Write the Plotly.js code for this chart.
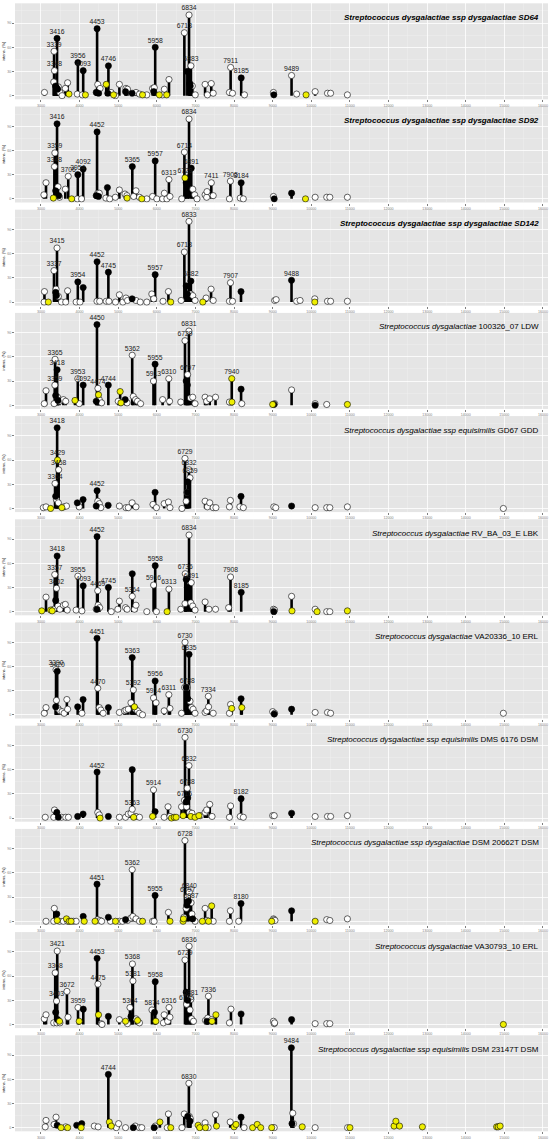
<!DOCTYPE html>
<html>
<head>
<meta charset="utf-8">
<script src="https://cdn.plot.ly/plotly-3.0.1.min.js"></script>
<style>body{margin:0;background:#fff}</style>
</head>
<body>
<div id="plotArea" style="width:553px;height:1140px"></div>
<script>
// strain names, one per panel
var titles = [
  "<b><i>Streptococcus dysgalactiae ssp dysgalactiae SD64</i></b>",
  "<b><i>Streptococcus dysgalactiae ssp dysgalactiae SD92</i></b>",
  "<b><i>Streptococcus dysgalactiae ssp dysgalactiae SD142</i></b>",
  "<i>Streptococcus dysgalactiae</i> 100326_07 LDW",
  "<i>Streptococcus dysgalactiae ssp equisimilis</i> GD67 GDD",
  "<i>Streptococcus dysgalactiae</i> RV_BA_03_E LBK",
  "<i>Streptococcus dysgalactiae</i> VA20336_10 ERL",
  "<i>Streptococcus dysgalactiae ssp equisimilis</i> DMS 6176 DSM",
  "<i>Streptococcus dysgalactiae ssp dysgalactiae</i> DSM 20662T DSM",
  "<i>Streptococcus dysgalactiae</i> VA30793_10 ERL",
  "<i>Streptococcus dysgalactiae ssp equisimilis</i> DSM 23147T DSM"
];

// peaks as [m/z, intens %], split by circle colour; labels = m/z of labelled peaks
var p1White = [[3090,4],[3330,17],[3339,55],[3348,31],[3450,11],[3490,4],[3545,0],[3630,9],[3690,16],[3940,2],[4070,1],[4470,14],[4530,9],[4815,4],[4930,0],[5030,14],[5200,9],[5240,8],[5460,4],[5550,2],[5740,1],[5890,9],[5935,10],[6145,1],[6195,8],[6315,20],[6713,78],[6834,100],[6883,37],[6870,14],[6920,12],[6995,1],[7250,14],[7310,1],[7410,15],[7460,3],[7880,4],[7911,35],[7960,3],[8270,1],[9020,4],[9489,25],[9620,2],[10100,5],[10420,3],[10500,3],[10935,1]];
var p1Black = [[3380,12],[3400,10],[3416,71],[3430,8],[3956,41],[4093,31],[4430,4],[4453,83],[4490,3],[4730,3],[4746,37],[5190,5],[5360,3],[5920,5],[5958,60],[6790,30],[6850,15],[6865,12],[8185,22],[9030,1]];
var p1Yellow = [[3725,2],[4150,1],[4690,14],[4880,1],[5630,1],[6065,1],[6255,1],[9865,1]];
var p1Labels = [3416,3339,3348,3956,4093,4453,4746,5958,6713,6834,6883,7911,8185,9489];

var p2White = [[3075,5],[3130,20],[3359,57],[3348,40],[3440,15],[3480,2],[3630,12],[3706,28],[3940,0],[4050,0],[4470,7],[4510,7],[4680,1],[4780,0],[4925,2],[5030,11],[5175,6],[5225,4],[5400,3],[5460,10],[5550,2],[5740,0],[5890,3],[6000,0],[6150,0],[6195,7],[6260,0],[6313,24],[6340,3],[6645,0],[6714,58],[6834,99],[6930,12],[6980,5],[7040,0],[7250,5],[7290,2],[7300,9],[7411,20],[7460,4],[7880,0],[7905,22],[8160,1],[8240,0],[9020,3],[10100,2],[10400,2],[10480,2],[10935,2]];
var p2Black = [[3380,10],[3416,93],[3460,4],[3954,30],[4092,37],[4430,4],[4452,83],[4490,3],[4720,14],[5365,40],[5957,47],[6760,20],[6800,26],[6891,38],[8184,20],[9040,0],[9490,7]];
var p2Yellow = [[3320,1],[3795,0],[5230,1],[5610,0],[6729,26],[9850,0]];
var p2Labels = [3416,3359,3348,3706,3954,4092,4452,5365,5957,6313,6714,6729,6834,6891,7411,7905,8184];

var p3White = [[3080,0],[3090,13],[3337,39],[3390,16],[3415,67],[3450,7],[3530,0],[3640,0],[3690,14],[3910,0],[4010,0],[4450,1],[4520,1],[4690,1],[4760,1],[4930,0],[5030,9],[5120,0],[5200,5],[5240,2],[5460,2],[5570,0],[5740,0],[5870,10],[5920,4],[6160,1],[6300,13],[6630,2],[6713,62],[6833,100],[6880,10],[6930,8],[6990,2],[7275,5],[7405,16],[7460,2],[7880,1],[7907,24],[7960,1],[9050,2],[9090,3],[9620,1],[9710,2],[10090,4],[10420,1],[10500,1],[10935,1]];
var p3Black = [[3380,12],[3400,8],[3954,25],[4093,18],[4452,50],[4745,37],[5360,4],[5957,34],[6760,20],[6790,10],[6882,26],[8180,13],[9488,27]];
var p3Yellow = [[3190,0],[6360,0],[7190,0],[10090,0]];
var p3Labels = [3415,3337,3954,4452,4745,5957,6713,6833,6882,7907,9488];

var p4White = [[3085,2],[3130,18],[3340,2],[3359,25],[3365,57],[3430,10],[3480,5],[3580,7],[3640,5],[3953,33],[3990,2],[4474,21],[4510,7],[4570,3],[5000,5],[5230,3],[5362,62],[5390,11],[5450,7],[5500,5],[5580,2],[5913,30],[6150,7],[6310,33],[6330,5],[6620,4],[6729,80],[6797,38],[6831,92],[6870,9],[6930,10],[6990,2],[7250,10],[7290,5],[7370,8],[7520,10],[7880,4],[8200,2],[9050,2],[9490,19],[10100,2],[10400,1]];
var p4Black = [[3380,12],[3418,44],[3440,6],[4092,25],[4430,5],[4450,100],[4744,25],[5180,7],[5955,51],[6760,30],[6790,25],[8182,20],[9030,1],[10100,0]];
var p4Yellow = [[3880,6],[4490,13],[5050,17],[5070,3],[7940,33],[7945,4],[9000,1],[10935,1]];
var p4Labels = [3365,3418,3359,3953,4092,4450,4474,4744,5362,5913,5955,6310,6729,6831,6797,7940];

var p5White = [[3060,1],[3130,2],[3364,31],[3400,11],[3450,7],[3458,48],[3590,2],[3660,3],[3990,2],[4470,9],[4510,6],[4550,1],[5030,3],[5200,1],[5260,1],[5360,7],[5460,2],[5900,5],[5990,1],[6190,6],[6300,8],[6340,1],[6650,0],[6729,62],[6760,9],[6780,20],[6832,48],[6859,38],[7250,9],[7310,2],[7370,7],[7460,1],[7530,1],[7880,2],[7905,10],[8150,2],[8240,1],[9030,2],[9080,1],[10100,1],[10400,1],[10480,1],[10935,2],[14974,0]];
var p5Black = [[3380,15],[3418,100],[3940,7],[4090,11],[4430,3],[4452,22],[4740,4],[5955,20],[6790,20],[6800,33],[8180,15],[9490,3]];
var p5Yellow = [[3250,0],[3429,60],[3540,1]];
var p5Labels = [3418,3429,3458,3364,4452,6729,6832,6859];

var p6White = [[3130,18],[3330,3],[3357,46],[3402,29],[3440,7],[3490,3],[3580,8],[3630,9],[3680,2],[3910,2],[3955,44],[4060,1],[4430,3],[4469,26],[4480,8],[4520,5],[4820,0],[4990,3],[5030,13],[5190,5],[5230,3],[5364,19],[5420,3],[5460,8],[5740,0],[5916,33],[5990,0],[6313,28],[6620,3],[6730,10],[6736,47],[6834,95],[6880,11],[6891,36],[6930,7],[6990,2],[7250,12],[7350,3],[7520,3],[7860,5],[7908,43],[9020,3],[9050,2],[9490,19],[10100,3],[10400,0],[10480,0]];
var p6Black = [[3380,14],[3418,69],[4093,32],[4450,3],[4452,93],[4745,30],[5364,47],[5958,57],[6760,40],[6790,30],[8185,24],[9030,0]];
var p6Yellow = [[3020,1],[3250,2],[3290,1],[6265,0],[9500,1],[10150,0],[10935,1]];
var p6Labels = [3418,3357,3402,3955,4093,4452,4469,4745,5364,5916,5958,6313,6736,6834,6891,7908,8185];

var p7White = [[3085,2],[3130,9],[3390,56],[3400,18],[3440,8],[3490,5],[3545,4],[3600,2],[3670,19],[3690,7],[4060,2],[4470,33],[4510,9],[4550,6],[4610,2],[5030,3],[5160,5],[5200,6],[5260,7],[5330,15],[5392,31],[5450,7],[5500,5],[5550,2],[5630,0],[5914,21],[5980,15],[6190,5],[6311,25],[6340,8],[6640,2],[6720,34],[6730,90],[6788,34],[6860,17],[6900,9],[6940,7],[6990,2],[7250,3],[7290,5],[7334,23],[7340,10],[7460,2],[7880,2],[7910,13],[9000,4],[9050,2],[10100,3],[10420,3],[10500,2],[14974,2]];
var p7Black = [[3380,10],[3420,54],[3950,10],[4090,19],[4451,95],[4745,9],[5363,71],[5956,42],[6760,34],[6800,20],[6835,75],[8182,20],[9040,1],[9490,7]];
var p7Yellow = [[5420,10],[7940,8],[8200,9]];
var p7Labels = [3390,3420,4451,4470,5363,5392,5914,5956,6311,6730,6835,6788,7334];

var p8White = [[3110,1],[3330,1],[3350,10],[3530,1],[3640,1],[3710,1],[4470,7],[4510,4],[5030,1],[5190,1],[5260,5],[5330,6],[5363,11],[5460,2],[5550,1],[5914,35],[6190,1],[6290,14],[6340,2],[6640,14],[6716,22],[6730,100],[6770,14],[6788,37],[6832,65],[6850,7],[6910,6],[7130,3],[7250,7],[7290,10],[7370,17],[7430,2],[7880,1],[7910,15],[8160,2],[8240,1],[9000,3],[9040,3],[10100,2],[10420,2],[10500,2],[10935,3]];
var p8Black = [[3410,7],[3450,1],[3950,2],[4090,5],[4452,57],[4745,2],[5363,60],[5955,8],[6760,20],[6800,25],[8182,24],[9490,6]];
var p8Yellow = [[4530,0],[5400,1],[5890,2],[6380,0],[6450,1],[6500,1],[6680,3],[6880,2],[6990,1],[7090,3]];
var p8Labels = [4452,5363,5914,6730,6832,6788,6716,8182];

var p9White = [[3130,0],[3330,0],[3345,16],[3480,0],[3580,0],[3690,0],[3840,0],[3910,0],[4470,2],[4530,1],[4570,0],[4800,0],[5030,0],[5110,0],[5240,1],[5330,4],[5362,64],[5380,6],[5460,3],[5550,0],[5890,0],[5930,0],[6300,11],[6700,5],[6728,100],[6760,16],[6797,30],[6840,36],[6887,23],[6910,9],[6990,0],[7250,16],[7300,1],[7460,0],[7880,0],[7905,13],[8120,0],[9020,3],[9040,2],[9060,1],[10400,2],[10480,1],[10935,3]];
var p9Black = [[3410,9],[4093,6],[4451,46],[4745,5],[5190,2],[5955,32],[6780,20],[6820,25],[6930,3],[8180,22],[9490,13]];
var p9Yellow = [[3420,1],[3660,3],[3730,0],[3780,0],[4120,0],[4400,0],[4930,0],[5630,0],[6340,0],[6680,0],[6690,3],[7180,0],[7340,0],[7420,19],[8975,0],[10100,0]];
var p9Labels = [4451,5362,5955,6728,6840,6797,6887,8180];

var p10White = [[3085,7],[3130,12],[3330,2],[3368,64],[3403,29],[3410,2],[3421,91],[3490,2],[3672,41],[3700,9],[3959,21],[4475,50],[4560,1],[4580,0],[5030,6],[5240,1],[5304,21],[5368,75],[5381,54],[5460,7],[5550,2],[5874,18],[6170,2],[6190,12],[6280,4],[6316,21],[6340,9],[6729,80],[6770,25],[6836,97],[6860,18],[6881,31],[6900,7],[6950,4],[7260,5],[7320,8],[7336,35],[7420,6],[7880,2],[7920,19],[9020,4],[9040,1],[9050,2],[10100,1],[10400,1],[10480,1]];
var p10Black = [[3380,15],[3430,6],[4095,19],[4453,82],[4745,10],[5330,10],[5940,15],[5958,53],[6760,40],[6800,30],[7300,4],[8182,13],[9490,6]];
var p10Yellow = [[3480,4],[3990,4],[4490,12],[5190,4],[5500,5],[5974,4],[7430,4],[7530,12],[14974,0]];
var p10Labels = [3421,3368,3403,3672,3959,4453,4475,5368,5381,5304,5874,5958,6316,6729,6836,6881,6770,7336];

var p11White = [[3110,1],[3130,9],[3340,4],[3390,13],[3640,1],[4380,2],[4480,1],[4950,0],[5010,5],[5190,0],[5440,2],[5550,0],[5610,0],[5960,2],[6270,0],[6300,17],[6650,0],[6710,17],[6830,55],[6840,14],[6870,11],[7250,6],[7330,0],[7520,16],[7900,7],[8260,0],[9020,0],[9040,0],[9520,18],[9540,5],[10100,0],[10940,0]];
var p11Black = [[3420,3],[3925,3],[4055,5],[4744,66],[5390,0],[5930,0],[6800,14],[6860,8],[8182,13],[9484,99],[9500,5]];
var p11Yellow = [[3520,0],[3690,0],[4040,0],[4770,7],[4820,2],[6080,7],[6360,0],[7070,3],[7110,0],[7260,0],[7545,2],[8000,1],[8050,4],[8480,0],[8600,4],[8690,0],[8975,0],[9765,1],[11000,0],[12143,2],[12190,8],[12285,2],[12877,1],[14800,1],[14840,1],[14890,2]];
var p11Labels = [4744,6830,9484];

var panels = [
  [p1White, p1Black, p1Yellow, p1Labels],
  [p2White, p2Black, p2Yellow, p2Labels],
  [p3White, p3Black, p3Yellow, p3Labels],
  [p4White, p4Black, p4Yellow, p4Labels],
  [p5White, p5Black, p5Yellow, p5Labels],
  [p6White, p6Black, p6Yellow, p6Labels],
  [p7White, p7Black, p7Yellow, p7Labels],
  [p8White, p8Black, p8Yellow, p8Labels],
  [p9White, p9Black, p9Yellow, p9Labels],
  [p10White, p10Black, p10Yellow, p10Labels],
  [p11White, p11Black, p11Yellow, p11Labels]
];

var W = 553, H = 1140;
var fills = ['#ffffff', '#000000', '#eeee00'];
var font = 'Liberation Sans, Arial, sans-serif';
var traces = [];
var layout = {
  width: W, height: H,
  margin: {l: 15, r: 5, t: 0, b: 0},
  paper_bgcolor: '#ffffff',
  plot_bgcolor: '#e5e5e5',
  showlegend: false,
  font: {family: font},
  annotations: []
};

panels.forEach(function (p, i) {
  var n = i === 0 ? '' : String(i + 1);
  var xa = 'x' + n, ya = 'y' + n;
  var all = p[0].concat(p[1], p[2]);

  // stems
  var sx = [], sy = [];
  all.forEach(function (pk) {
    sx.push(pk[0], pk[0], null);
    sy.push(0, pk[1], null);
  });
  traces.push({x: sx, y: sy, mode: 'lines', line: {color: '#000', width: 2.6},
    xaxis: xa, yaxis: ya, hoverinfo: 'skip'});

  // circles
  for (var k = 0; k < 3; k++) {
    traces.push({
      x: p[k].map(function (d) { return d[0]; }),
      y: p[k].map(function (d) { return d[1]; }),
      mode: 'markers', xaxis: xa, yaxis: ya,
      marker: {size: 6.2, color: fills[k], line: {color: '#000', width: 0.6}}
    });
  }

  // peak labels
  var lx = [], ly = [], lt = [];
  p[3].forEach(function (m) {
    var pk = all.filter(function (d) { return d[0] === m; })[0];
    lx.push(m); ly.push(pk[1]); lt.push(String(m));
  });
  traces.push({x: lx, y: ly, text: lt, mode: 'markers+text', textposition: 'top center',
    marker: {size: 3, opacity: 0}, xaxis: xa, yaxis: ya,
    textfont: {size: 6.8, color: '#1a1a1a', family: font}});

  // panel geometry in px
  var top = 3.3 + i * 103.2, bot = top + 96;
  layout['xaxis' + n] = {
    anchor: ya, domain: [0, 1], range: [2327, 16130],
    dtick: 1000, tick0: 0, tickformat: 'd', ticks: 'outside', ticklen: 2, tickcolor: '#7f7f7f',
    tickfont: {size: 3.6, color: '#7f7f7f'},
    showgrid: true, gridcolor: '#ffffff', gridwidth: 0.8, zeroline: false,
    minor: {dtick: 500, showgrid: true, gridcolor: '#f2f2f2', gridwidth: 0.4}
  };
  layout['yaxis' + n] = {
    anchor: xa, domain: [1 - bot / H, 1 - top / H], range: [-4.5, 114.5],
    dtick: 30, tick0: 0, ticks: 'outside', ticklen: 2, tickcolor: '#7f7f7f',
    tickfont: {size: 3.6, color: '#7f7f7f'},
    showgrid: true, gridcolor: '#ffffff', gridwidth: 0.8, zeroline: false,
    minor: {dtick: 15, showgrid: true, gridcolor: '#f2f2f2', gridwidth: 0.4},
    title: {text: 'intens. (%)', font: {size: 4, color: '#000'}, standoff: 1}
  };
  layout.annotations.push({
    text: titles[i], xref: 'paper', yref: 'paper',
    x: (541 - 15) / (W - 20), y: 1 - (top + 14) / H,
    xanchor: 'right', yanchor: 'middle', showarrow: false,
    font: {size: 8, color: '#000', family: font}
  });
});

Plotly.newPlot('plotArea', traces, layout, {displayModeBar: false, staticPlot: true});
</script>
</body>
</html>
